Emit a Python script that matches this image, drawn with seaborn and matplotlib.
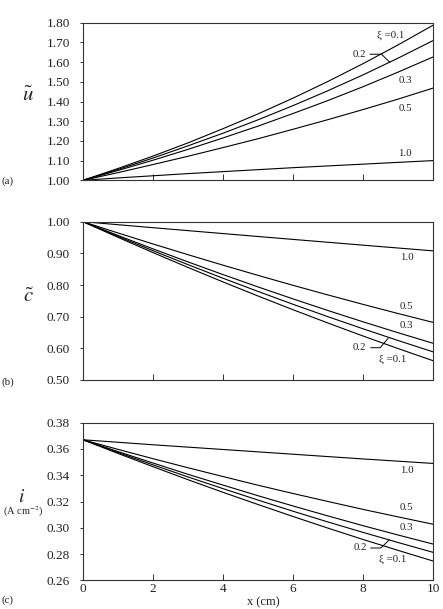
import matplotlib
matplotlib.use("Agg")
import matplotlib.pyplot as plt
import seaborn as sns
import pandas as pd
import numpy as np

# ---------------- data ----------------
x_cm = [0, 1, 2, 3, 4, 5, 6, 7, 8, 9, 10]
xi_labels = ["0.1", "0.2", "0.3", "0.5", "1.0"]

u_01 = [1.000, 1.060, 1.123, 1.190, 1.262, 1.337, 1.417, 1.502, 1.592, 1.687, 1.787]
u_02 = [1.000, 1.055, 1.113, 1.175, 1.239, 1.307, 1.379, 1.455, 1.535, 1.620, 1.709]
u_03 = [1.000, 1.050, 1.102, 1.157, 1.215, 1.275, 1.339, 1.405, 1.475, 1.549, 1.626]
u_05 = [1.000, 1.039, 1.080, 1.122, 1.166, 1.211, 1.259, 1.308, 1.359, 1.412, 1.468]
u_10 = [1.000, 1.012, 1.023, 1.034, 1.044, 1.054, 1.064, 1.073, 1.082, 1.091, 1.100]

c_01 = [1.000, 0.9506, 0.9024, 0.8555, 0.8098, 0.7653, 0.7220, 0.6799, 0.6390, 0.5994, 0.561]
c_02 = [1.000, 0.9536, 0.9084, 0.8643, 0.8214, 0.7798, 0.7392, 0.6999, 0.6618, 0.6248, 0.589]
c_03 = [1.000, 0.9566, 0.9142, 0.8730, 0.8330, 0.7940, 0.7562, 0.7194, 0.6838, 0.6494, 0.616]
c_05 = [1.000, 0.9644, 0.9297, 0.8958, 0.8627, 0.8305, 0.7991, 0.7686, 0.7389, 0.7100, 0.682]
c_10 = [1.000, 0.9905, 0.9811, 0.9718, 0.9625, 0.9533, 0.9441, 0.9350, 0.9259, 0.9169, 0.908]

i_01 = [0.3670, 0.3566, 0.3465, 0.3366, 0.3270, 0.3177, 0.3086, 0.2997, 0.2911, 0.2828, 0.2747]
i_02 = [0.3670, 0.3573, 0.3479, 0.3387, 0.3298, 0.3211, 0.3126, 0.3044, 0.2965, 0.2888, 0.2813]
i_03 = [0.3670, 0.3580, 0.3493, 0.3407, 0.3325, 0.3244, 0.3166, 0.3090, 0.3016, 0.2945, 0.2876]
i_05 = [0.3670, 0.3597, 0.3526, 0.3457, 0.3390, 0.3324, 0.3261, 0.3200, 0.3140, 0.3083, 0.3027]
i_10 = [0.3670, 0.3651, 0.3632, 0.3614, 0.3596, 0.3578, 0.3560, 0.3542, 0.3524, 0.3507, 0.3490]

x_ticks = [0, 2, 4, 6, 8, 10]
u_ticks = [1.00, 1.10, 1.20, 1.30, 1.40, 1.50, 1.60, 1.70, 1.80]
c_ticks = [0.50, 0.60, 0.70, 0.80, 0.90, 1.00]
i_ticks = [0.26, 0.28, 0.30, 0.32, 0.34, 0.36, 0.38]


def long_df(series):
    rows = []
    for lab, vals in zip(xi_labels, series):
        for xv, yv in zip(x_cm, vals):
            rows.append({"x": xv, "y": yv, "xi": lab})
    return pd.DataFrame(rows)


df_u = long_df([u_01, u_02, u_03, u_05, u_10])
df_c = long_df([c_01, c_02, c_03, c_05, c_10])
df_i = long_df([i_01, i_02, i_03, i_05, i_10])

# ---------------- style ----------------
sns.set_theme(style="ticks")
plt.rcParams["font.family"] = ["Liberation Serif", "DejaVu Serif"]
plt.rcParams["mathtext.fontset"] = "stix"

W, H = 443, 609
fig = plt.figure(figsize=(W / 100, H / 100), dpi=100)


def ax_rect(left, top, right, bottom):
    return [left / W, 1 - bottom / H, (right - left) / W, (bottom - top) / H]


ax_a = fig.add_axes(ax_rect(83, 22.7, 433, 180.3))
ax_b = fig.add_axes(ax_rect(83, 221.7, 433, 380.0))
ax_c = fig.add_axes(ax_rect(83, 422.7, 433, 580.3))

palette = {k: "black" for k in xi_labels}
for ax, df in [(ax_a, df_u), (ax_b, df_c), (ax_c, df_i)]:
    sns.lineplot(data=df, x="x", y="y", hue="xi", palette=palette,
                 estimator=None, legend=False, linewidth=0.8, ax=ax)
    ax.set_xlim(0, 10)
    ax.set_xticks(x_ticks)
    ax.set_xlabel("")
    ax.set_ylabel("")
    for s in ax.spines.values():
        s.set_visible(True)
        s.set_color("#333333")
        s.set_linewidth(0.8)
    ax.tick_params(axis="x", direction="in", length=4, width=0.7,
                   colors="#333333", labelcolor="#222222", labelsize=9.5, pad=2)
    ax.tick_params(axis="y", direction="out", length=2.5, width=0.7,
                   colors="#333333", labelcolor="#222222", labelsize=9.5, pad=7)

ax_a.set_ylim(1.0, 1.8)
ax_a.set_yticks(u_ticks)
ax_a.set_yticklabels([f"{t:.2f}" for t in u_ticks])
ax_a.set_xticklabels([])

ax_b.set_ylim(0.5, 1.0)
ax_b.set_yticks(c_ticks)
ax_b.set_yticklabels([f"{t:.2f}" for t in c_ticks])
ax_b.set_xticklabels([])

ax_c.set_ylim(0.26, 0.38)
ax_c.set_yticks(i_ticks)
ax_c.set_yticklabels([f"{t:.2f}" for t in i_ticks])
ax_c.set_xticklabels([str(t) for t in x_ticks])

# ---------------- annotations ----------------
afs = 7.8
tc = "#222222"
# panel a
ax_a.text(8.4, 1.738, "ξ =0.1", fontsize=afs, color=tc, ha="left", va="center")
ax_a.text(7.69, 1.640, "0.2", fontsize=afs, color=tc, ha="left", va="center")
ax_a.plot([8.2, 8.53, 8.77], [1.640, 1.640, 1.598], color="black", lw=0.7)
ax_a.text(9.2, 1.509, "0.3", fontsize=afs, color=tc, ha="center", va="center")
ax_a.text(9.2, 1.365, "0.5", fontsize=afs, color=tc, ha="center", va="center")
ax_a.text(9.2, 1.134, "1.0", fontsize=afs, color=tc, ha="center", va="center")
# panel b
ax_b.text(9.25, 0.888, "1.0", fontsize=afs, color=tc, ha="center", va="center")
ax_b.text(9.25, 0.732, "0.5", fontsize=afs, color=tc, ha="center", va="center")
ax_b.text(9.25, 0.671, "0.3", fontsize=afs, color=tc, ha="center", va="center")
ax_b.text(7.91, 0.604, "0.2", fontsize=afs, color=tc, ha="center", va="center")
ax_b.plot([8.22, 8.49, 8.72], [0.602, 0.602, 0.632], color="black", lw=0.7)
ax_b.text(8.45, 0.565, "ξ =0.1", fontsize=afs, color=tc, ha="left", va="center")
# panel c
ax_c.text(9.25, 0.3434, "1.0", fontsize=afs, color=tc, ha="center", va="center")
ax_c.text(9.25, 0.3153, "0.5", fontsize=afs, color=tc, ha="center", va="center")
ax_c.text(9.25, 0.3000, "0.3", fontsize=afs, color=tc, ha="center", va="center")
ax_c.text(7.93, 0.2853, "0.2", fontsize=afs, color=tc, ha="center", va="center")
ax_c.plot([8.22, 8.51, 8.75], [0.2846, 0.2846, 0.2908], color="black", lw=0.7)
ax_c.text(8.45, 0.2760, "ξ =0.1", fontsize=afs, color=tc, ha="left", va="center")

# ---------------- axis labels ----------------
fig.text(28 / W, 1 - 96 / H, r"$\tilde{u}$", fontsize=15, ha="center", va="center")
fig.text(29 / W, 1 - 297 / H, r"$\tilde{c}$", fontsize=15, ha="center", va="center")
fig.text(22 / W, 1 - 497 / H, r"$i$", fontsize=14, ha="center", va="center")
fig.text(23 / W, 1 - 512 / H, r"(A cm$^{-2}$)", fontsize=7.5, ha="center", va="center")
fig.text(263 / W, 1 - 608.5 / H, "x (cm)", fontsize=9, ha="center", va="bottom", color=tc)

fig.text(2 / W, 1 - 181 / H, "(a)", fontsize=7.8, ha="left", va="center", color=tc)
fig.text(2 / W, 1 - 382 / H, "(b)", fontsize=7.8, ha="left", va="center", color=tc)
fig.text(2 / W, 1 - 600 / H, "(c)", fontsize=7.8, ha="left", va="center", color=tc)

fig.savefig("out.png", dpi=100)
